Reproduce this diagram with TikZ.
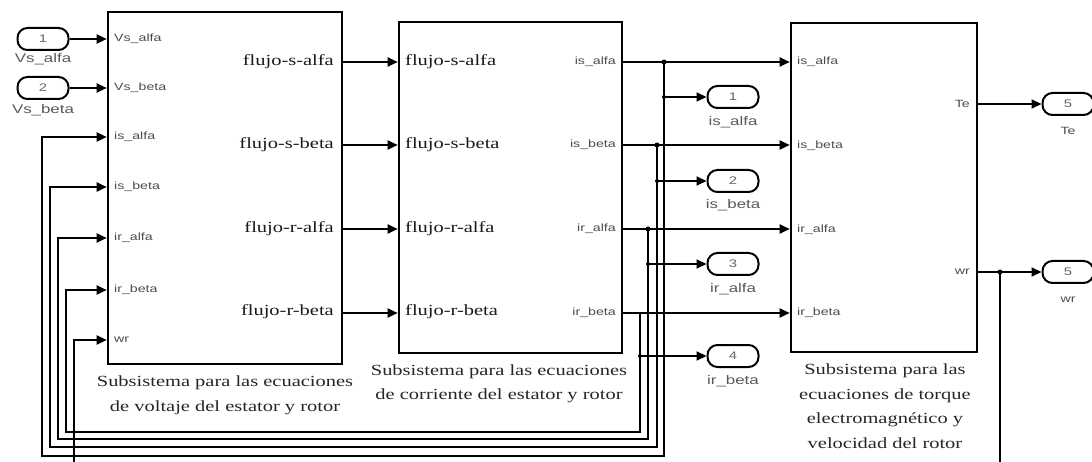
\documentclass[tikz,border=0pt]{standalone}
\usepackage{fontspec}
\setmainfont{Liberation Serif}[FakeStretch=1.32]
\newfontfamily\portfont{Liberation Sans}[FakeStretch=1.35]
\usetikzlibrary{arrows.meta,calc}
\begin{document}
\begin{tikzpicture}[x=1pt,y=-1pt,
  blk/.style={draw,line width=2.6pt,inner sep=0pt},
  sig/.style={line width=2pt},
  arr/.style={sig,-{Triangle[length=10pt,width=9pt]}},
  port/.style={draw,line width=2pt,rounded corners=10pt,minimum width=51pt,minimum height=22pt,inner sep=0pt,font=\portfont\fontsize{11}{11}\selectfont,text=black!60},
  plbl/.style={font=\portfont\fontsize{12.5}{12.5}\selectfont,text=black!65,inner sep=0pt},
  inlbl/.style={font=\portfont\fontsize{10.5}{10.5}\selectfont,text=black!70,inner sep=0pt},
  flbl/.style={font=\fontsize{15.5}{15.5}\selectfont,inner sep=0pt,text=black!90},
  captxt/.style={font=\fontsize{15.5}{24.5}\selectfont,align=center,inner sep=0pt,text=black!85},
  dot/.style={circle,fill,inner sep=0pt,minimum size=5pt}
]
\useasboundingbox (0,0) rectangle (1092,462);
\clip (0,0) rectangle (1092,462);

% rows
\coordinate (r1) at (0,62);
\coordinate (r2) at (0,145);
\coordinate (r3) at (0,229);
\coordinate (r4) at (0,313);
\coordinate (p1) at (0,39);
\coordinate (p2) at (0,88);
\coordinate (p3) at (0,137);
\coordinate (p4) at (0,187);
\coordinate (p5) at (0,238);
\coordinate (p6) at (0,290);
\coordinate (p7) at (0,340);
\coordinate (f1) at (0,456);
\coordinate (f2) at (0,447);
\coordinate (f3) at (0,439);
\coordinate (f4) at (0,432);
\coordinate (f5) at (0,480);
\coordinate (l1) at (42,0);
\coordinate (l2) at (50,0);
\coordinate (l3) at (58,0);
\coordinate (l4) at (66,0);
\coordinate (l5) at (74,0);
\coordinate (j1) at (664,62);
\coordinate (j2) at (657,145);
\coordinate (j3) at (648,229);
\coordinate (j4) at (640,313);
\coordinate (j5) at (1000,272);

% blocks
\node[blk,minimum width=234pt,minimum height=352pt] (b1) at (225,188) {};
\node[blk,minimum width=223pt,minimum height=331pt] (b2) at (510.5,187.5) {};
\node[blk,minimum width=186pt,minimum height=329pt] (b3) at (884,187.5) {};

% block 1 labels
\node[inlbl,anchor=west] (b1i1) at (114,39) {Vs\_alfa};
\node[inlbl,anchor=west] (b1i2) at (114,88) {Vs\_beta};
\node[inlbl,anchor=west] (b1i3) at (114,137) {is\_alfa};
\node[inlbl,anchor=west] (b1i4) at (114,187) {is\_beta};
\node[inlbl,anchor=west] (b1i5) at (114,238) {ir\_alfa};
\node[inlbl,anchor=west] (b1i6) at (114,290) {ir\_beta};
\node[inlbl,anchor=west] (b1i7) at (114,340) {wr};
\node[flbl,anchor=east] (b1o1) at (334,62) {flujo-s-alfa};
\node[flbl,anchor=east] (b1o2) at (334,145) {flujo-s-beta};
\node[flbl,anchor=east] (b1o3) at (334,229) {flujo-r-alfa};
\node[flbl,anchor=east] (b1o4) at (334,312) {flujo-r-beta};

% block 2 labels
\node[flbl,anchor=west] (b2i1) at (405,62) {flujo-s-alfa};
\node[flbl,anchor=west] (b2i2) at (405,145) {flujo-s-beta};
\node[flbl,anchor=west] (b2i3) at (405,229) {flujo-r-alfa};
\node[flbl,anchor=west] (b2i4) at (405,312) {flujo-r-beta};
\node[inlbl,anchor=east] (b2o1) at (616,62) {is\_alfa};
\node[inlbl,anchor=east] (b2o2) at (616,145) {is\_beta};
\node[inlbl,anchor=east] (b2o3) at (616,229) {ir\_alfa};
\node[inlbl,anchor=east] (b2o4) at (616,313) {ir\_beta};

% block 3 labels
\node[inlbl,anchor=west] (b3i1) at (797,62) {is\_alfa};
\node[inlbl,anchor=west] (b3i2) at (797,146) {is\_beta};
\node[inlbl,anchor=west] (b3i3) at (797,230) {ir\_alfa};
\node[inlbl,anchor=west] (b3i4) at (797,313) {ir\_beta};
\node[inlbl,anchor=east] (b3o1) at (970,104) {Te};
\node[inlbl,anchor=east] (b3o2) at (970,272) {wr};

% captions
\node[captxt] (c1) at (225,395.5) {Subsistema para las ecuaciones\\de voltaje del estator y rotor};
\node[captxt] (c2) at (499,384) {Subsistema para las ecuaciones\\de corriente del estator y rotor};
\node[captxt] (c3) at (885,406) {Subsistema para las\\ecuaciones de torque\\electromagn\'etico y\\velocidad del rotor};

% inports
\node[port] (in1) at (43,39) {1};
\node[plbl] (in1l) at (43,59) {Vs\_alfa};
\node[port] (in2) at (43,88) {2};
\node[plbl] (in2l) at (43,110) {Vs\_beta};

% outports
\node[port] (o1) at (733,97) {1};
\node[plbl] (o1l) at (733,122) {is\_alfa};
\node[port] (o2) at (733,181) {2};
\node[plbl] (o2l) at (733,205) {is\_beta};
\node[port] (o3) at (733,264) {3};
\node[plbl] (o3l) at (733,289) {ir\_alfa};
\node[port] (o4) at (733,356) {4};
\node[plbl] (o4l) at (733,381) {ir\_beta};
\node[port] (o5) at (1068,104) {5};
\node[inlbl] (o5l) at (1068,131) {Te};
\node[port] (o6) at (1068,272) {5};
\node[inlbl] (o6l) at (1068,300) {wr};

% inputs to block 1
\draw[arr] (in1.east) -- (b1.west |- in1.east);
\draw[arr] (in2.east) -- (b1.west |- in2.east);

% block 1 -> block 2
\draw[arr] (b1.east |- r1) -- (b2.west |- r1);
\draw[arr] (b1.east |- r2) -- (b2.west |- r2);
\draw[arr] (b1.east |- r3) -- (b2.west |- r3);
\draw[arr] (b1.east |- r4) -- (b2.west |- r4);

% block 2 -> block 3
\draw[arr] (b2.east |- r1) -- (b3.west |- r1);
\draw[arr] (b2.east |- r2) -- (b3.west |- r2);
\draw[arr] (b2.east |- r3) -- (b3.west |- r3);
\draw[arr] (b2.east |- r4) -- (b3.west |- r4);

% branches to outports
\draw[arr] (j1 |- o1) -- (o1.west);
\draw[arr] (j2 |- o2) -- (o2.west);
\draw[arr] (j3 |- o3) -- (o3.west);
\draw[arr] (j4 |- o4) -- (o4.west);

% feedback lines
\draw[arr] (j1) |- (l1 |- f1) -- (l1 |- p3) -- (b1.west |- p3);
\draw[arr] (j2) |- (l2 |- f2) -- (l2 |- p4) -- (b1.west |- p4);
\draw[arr] (j3) |- (l3 |- f3) -- (l3 |- p5) -- (b1.west |- p5);
\draw[arr] (j4) |- (l4 |- f4) -- (l4 |- p6) -- (b1.west |- p6);

% block 3 outputs
\draw[arr] (b3.east |- o5) -- (o5.west);
\draw[arr] (b3.east |- o6) -- (o6.west);
\draw[arr] (j5) |- (l5 |- f5) -- (l5 |- p7) -- (b1.west |- p7);

% junction dots
\node[dot] (d1) at (j1) {};
\node[dot] (d2) at (j2) {};
\node[dot] (d3) at (j3) {};
\node[dot] (d5) at (j5) {};
\node[dot,minimum size=4pt] (e1) at (j1 |- o1) {};
\node[dot,minimum size=4pt] (e2) at (j2 |- o2) {};
\node[dot,minimum size=4pt] (e3) at (j3 |- o3) {};
\node[dot,minimum size=4pt] (e4) at (j4 |- o4) {};
\end{tikzpicture}
\end{document}
